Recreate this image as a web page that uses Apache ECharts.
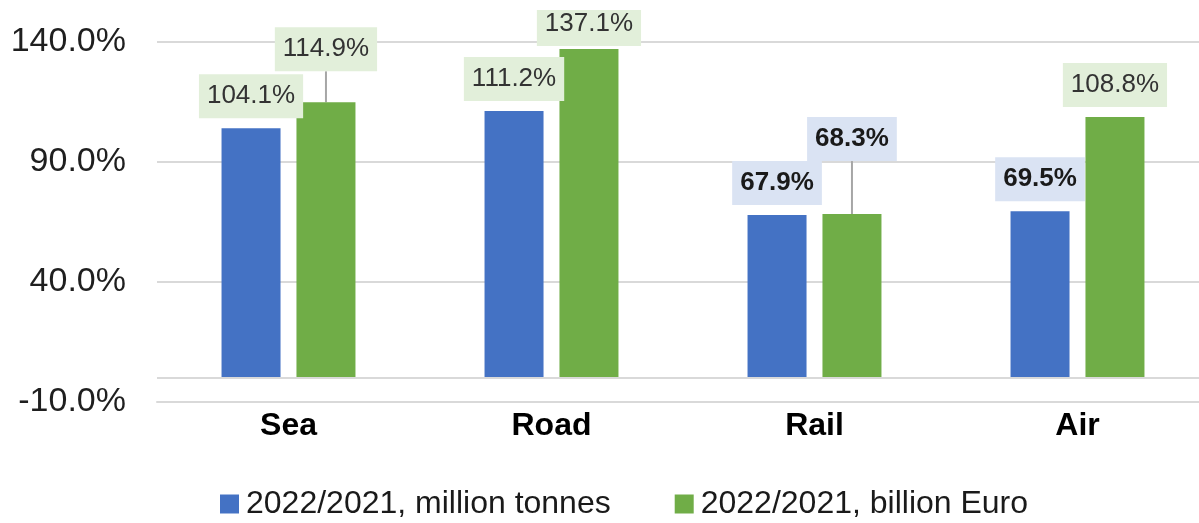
<!DOCTYPE html>
<html>
<head>
<meta charset="utf-8">
<script src="https://cdn.jsdelivr.net/npm/echarts@6/dist/echarts.min.js"></script>
<style>
  html, body { margin: 0; padding: 0; background: #ffffff; }
  #chart { width: 1199px; height: 523px; }
</style>
</head>
<body>
<div id="chart"></div>
<script>
// Transport modes and year-on-year ratios (2022 vs 2021, %)
const categories = ['Sea', 'Road', 'Rail', 'Air'];
const tonnesRatio = [104.1, 111.2, 67.9, 69.5];
const euroRatio = [114.9, 137.1, 68.3, 108.8];
const seriesNames = ['2022/2021, million tonnes', '2022/2021, billion Euro'];

// Value axis range and step
const yMin = -10;
const yMax = 140;
const yStep = 50;

// Vertical label moves (px) per series / category, to keep boxes clear of each other
const labelShift = [
  [0, 0, 0, 0],
  [-21, 7, -43, 0]
];
// Top padding of each callout (the top one is trimmed at the chart edge)
const labelTopPad = [
  [9, 9, 9, 9],
  [9, 1, 9, 9]
];

const FONT = "'Liberation Sans', Arial, Helvetica, sans-serif";
const BLUE = '#4472c4';
const GREEN = '#70ad47';

// Ratios above 100% get a light green callout, the rest a bold light blue one
function labelStyleFor(v, topPad) {
  const up = v >= 100;
  return {
    backgroundColor: up ? '#e2efda' : '#dae3f3',
    fontWeight: up ? 'normal' : 'bold',
    color: up ? '#333333' : '#1a1a1a',
    padding: [topPad, 8, 9, 8]
  };
}

function buildData(values, sIdx) {
  return values.map((v, i) => ({
    value: v,
    label: labelStyleFor(v, labelTopPad[sIdx][i]),
    labelLine: { show: labelShift[sIdx][i] < 0 }
  }));
}

const chart = echarts.init(document.getElementById('chart'), null, { renderer: 'canvas' });

const baseLabel = {
  show: true,
  position: 'top',
  distance: 10,
  fontFamily: FONT,
  fontSize: 26,
  lineHeight: 26,
  formatter: p => p.value.toFixed(1) + '%'
};

const option = {
  backgroundColor: '#ffffff',
  animation: false,
  grid: { left: 157, width: 1052, top: 42, bottom: 121, containLabel: false, outerBoundsMode: 'none' },
  legend: {
    data: seriesNames,
    left: 220,
    top: 488,
    padding: 0,
    icon: 'rect',
    itemWidth: 19,
    itemHeight: 19,
    itemGap: 64,
    textStyle: { fontFamily: FONT, fontSize: 32, color: '#1a1a1a', padding: [0, 0, 0, 2] }
  },
  xAxis: {
    type: 'category',
    data: categories,
    axisLine: { show: true, onZero: false, lineStyle: { color: '#d9d9d9', width: 2 } },
    axisTick: { show: false },
    axisLabel: {
      fontFamily: FONT,
      fontSize: 32,
      fontWeight: 'bold',
      color: '#000000',
      margin: 8
    }
  },
  yAxis: {
    type: 'value',
    min: yMin,
    max: yMax,
    interval: yStep,
    axisLine: { show: false },
    axisTick: { show: false },
    splitLine: { lineStyle: { color: '#d9d9d9', width: 2 } },
    axisLabel: {
      fontFamily: FONT,
      fontSize: 34,
      color: '#1f1f1f',
      margin: 31,
      formatter: v => v.toFixed(1) + '%'
    }
  },
  series: [
    {
      name: seriesNames[0],
      type: 'bar',
      barWidth: 59,
      barGap: '27%',
      itemStyle: { color: BLUE },
      label: baseLabel,
      labelLine: { show: false, lineStyle: { color: '#a6a6a6', width: 2 } },
      labelLayout: p => ({ dy: labelShift[0][p.dataIndex] }),
      data: buildData(tonnesRatio, 0),
      markLine: {
        silent: true,
        symbol: 'none',
        label: { show: false },
        lineStyle: { color: '#d9d9d9', width: 2, type: 'solid' },
        data: [{ yAxis: 0 }]
      }
    },
    {
      name: seriesNames[1],
      type: 'bar',
      barWidth: 59,
      barGap: '27%',
      itemStyle: { color: GREEN },
      label: baseLabel,
      labelLine: { show: false, lineStyle: { color: '#a6a6a6', width: 2 } },
      labelLayout: p => ({ dy: labelShift[1][p.dataIndex] }),
      data: buildData(euroRatio, 1)
    }
  ]
};

chart.setOption(option);
</script>
</body>
</html>
